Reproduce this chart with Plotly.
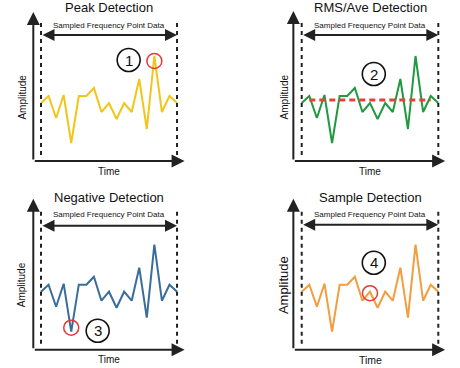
import plotly.graph_objects as go

# ---------------- data ----------------
titles = ["Peak Detection", "RMS/Ave Detection", "Negative Detection", "Sample Detection"]
line_colors = ["#f2c51a", "#1f9a3f", "#3a6c9c", "#f29d3e"]
time_idx = list(range(19))
amplitude = [5.8, 6.5, 4.3, 6.6, 1.8, 6.5, 6.5, 7.3, 4.9, 5.8, 4.2, 5.8, 4.9, 8.2, 3.2, 10.5, 4.9, 6.5, 5.8]
rms_level = 6.1
rms_span = [1, 17]
number_labels = ["1", "2", "3", "4"]
span_label = "Sampled Frequency Point Data"
x_label = "Time"
y_label = "Amplitude"

# ---------------- layout helpers (positions/styles) ----------------
x_ranges = [[-5.426, 25.01], [-9.45, 20.86], [-5.426, 25.01], [-9.45, 20.86]]
y_ranges = [[-2.3, 16.1], [-2.3, 16.1], [-1.83, 16.57], [-1.83, 16.57]]
x_domains = [[0, 0.5], [0.5, 1], [0, 0.5], [0.5, 1]]
y_domains = [[0.5, 1], [0.5, 1], [0, 0.5], [0, 0.5]]
axis_x = [-1.02, -1.1, -1.02, -1.1]
axis_top = [14.9, 15.0, 15.1, 15.1]
axis_right = [19.0, 18.9, 19.0, 18.9]
title_y = [15.4, 15.4, 15.2, 15.2]
span_text_y = [13.6, 13.6, 13.5, 13.5]
span_arrow_y = [12.6, 12.6, 12.4, 12.5]
ylab_x = [-2.57, -2.28, -2.57, -2.41]
ylab_y = [6.4, 6.4, 6.5, 6.5]
ylab_size = [10, 10, 10, 13]
xlab_y = [-1.07, -1.07, -1.0, -1.0]
xlab_size = [10, 10, 10, 10.5]
num_pos = [(11.6, 10.1), (9.5, 8.7), (7.5, 1.9), (9.5, 8.7)]
red_pos = [(15, 10.0), None, (4, 2.2), (9, 5.65)]

AX = "#222222"
FONT = "Liberation Sans, Arial, sans-serif"

fig = go.Figure()
layout = dict(width=460, height=368, margin=dict(l=0, r=0, t=0, b=0),
              paper_bgcolor="white", plot_bgcolor="white", showlegend=False)
annotations = []
shapes = []

for i in range(4):
    n = "" if i == 0 else str(i + 1)
    xr, yr = "x" + n, "y" + n
    layout["xaxis" + n] = dict(domain=x_domains[i], range=x_ranges[i], visible=False,
                               fixedrange=True, anchor=yr)
    layout["yaxis" + n] = dict(domain=y_domains[i], range=y_ranges[i], visible=False,
                               fixedrange=True, anchor=xr)

    fig.add_trace(go.Scatter(x=time_idx, y=amplitude, xaxis=xr, yaxis=yr, mode="lines",
                             line=dict(color=line_colors[i], width=2), hoverinfo="skip"))
    if i == 1:
        fig.add_trace(go.Scatter(x=rms_span, y=[rms_level, rms_level], xaxis=xr, yaxis=yr,
                                 mode="lines", line=dict(color="#e5433a", width=3, dash="6px,4px"),
                                 hoverinfo="skip"))

    # dashed boundary lines
    for xv in (time_idx[0], time_idx[-1]):
        shapes.append(dict(type="line", xref=xr, yref=yr, x0=xv, x1=xv, y0=0.6, y1=13.8,
                           line=dict(color=AX, width=2, dash="4px,4px")))

    # axes arrows
    annotations.append(dict(xref=xr, yref=yr, axref=xr, ayref=yr, x=axis_x[i], y=axis_top[i],
                            ax=axis_x[i], ay=0, text="", showarrow=True, arrowhead=2,
                            arrowsize=1.3, arrowwidth=2, arrowcolor=AX))
    annotations.append(dict(xref=xr, yref=yr, axref=xr, ayref=yr, x=axis_right[i], y=0,
                            ax=axis_x[i], ay=0, text="", showarrow=True, arrowhead=2,
                            arrowsize=1.3, arrowwidth=2, arrowcolor=AX))
    # span double arrow
    annotations.append(dict(xref=xr, yref=yr, axref=xr, ayref=yr, x=time_idx[-1], y=span_arrow_y[i],
                            ax=time_idx[0], ay=span_arrow_y[i], text="", showarrow=True,
                            arrowhead=2, startarrowhead=2, arrowside="end+start",
                            arrowsize=1.2, startarrowsize=1.2, arrowwidth=2, arrowcolor=AX))
    # texts
    annotations.append(dict(xref=xr, yref=yr, x=9, y=title_y[i], text=titles[i], showarrow=False,
                            font=dict(family=FONT, size=13, color="#111")))
    annotations.append(dict(xref=xr, yref=yr, x=9, y=span_text_y[i], text=span_label, showarrow=False,
                            font=dict(family=FONT, size=8, color="#111")))
    annotations.append(dict(xref=xr, yref=yr, x=ylab_x[i], y=ylab_y[i], text=y_label, showarrow=False,
                            textangle=-90, font=dict(family=FONT, size=ylab_size[i], color="#111")))
    annotations.append(dict(xref=xr, yref=yr, x=9, y=xlab_y[i], text=x_label, showarrow=False,
                            font=dict(family=FONT, size=xlab_size[i], color="#111")))
    # numbered circle
    cx, cy = num_pos[i]
    shapes.append(dict(type="circle", xref=xr, yref=yr, xsizemode="pixel", ysizemode="pixel",
                       xanchor=cx, yanchor=cy, x0=-11.5, x1=11.5, y0=-11.5, y1=11.5,
                       line=dict(color="#111", width=1.6)))
    annotations.append(dict(xref=xr, yref=yr, x=cx, y=cy, text=number_labels[i], showarrow=False,
                            font=dict(family=FONT, size=15, color="#111")))
    # red highlight circle
    if red_pos[i] is not None:
        rx, ry = red_pos[i]
        shapes.append(dict(type="circle", xref=xr, yref=yr, xsizemode="pixel", ysizemode="pixel",
                           xanchor=rx, yanchor=ry, x0=-7.5, x1=7.5, y0=-7.5, y1=7.5,
                           line=dict(color="#e23b35", width=1.5)))

layout["annotations"] = annotations
layout["shapes"] = shapes
fig.update_layout(**layout)
fig.write_html("out.html", config={"displayModeBar": False, "staticPlot": True},
               post_script="document.body.style.margin='0';")
